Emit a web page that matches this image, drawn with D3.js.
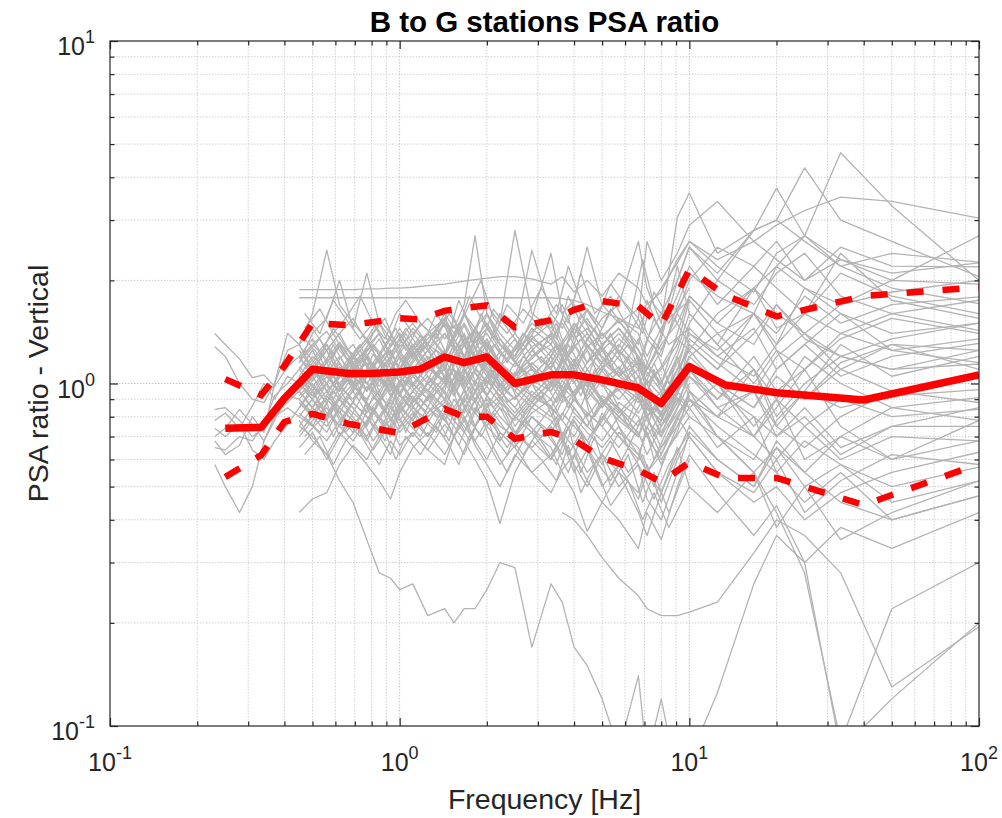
<!DOCTYPE html>
<html>
<head>
<meta charset="utf-8">
<script src="https://cdn.jsdelivr.net/npm/d3@7"></script>
<style>
  body { margin: 0; background: #fff; }
  svg { display: block; }
</style>
</head>
<body>
<svg id="chart" width="1002" height="818"></svg>
<script>
// frequencies of the mean / +-sigma curves (Hz)
const redFreqs = [0.25, 0.333, 0.4, 0.5, 0.667, 0.8, 1, 1.176, 1.429, 1.667, 2, 2.5,
  3.333, 4, 5, 6.667, 8, 10, 13.33, 20, 40, 100];
const meanRatio = [0.74, 0.745, 0.905, 1.10, 1.07, 1.07, 1.08, 1.10, 1.195, 1.15, 1.195, 1.0,
  1.06, 1.06, 1.025, 0.97, 0.875, 1.12, 0.99, 0.94, 0.895, 1.06];
const upperRatio = [1.03, 0.925, 1.125, 1.50, 1.48, 1.51, 1.55, 1.54, 1.63, 1.66, 1.69, 1.46,
  1.53, 1.64, 1.74, 1.68, 1.48, 2.15, 1.81, 1.57, 1.80, 1.91];
const lowerRatio = [0.533, 0.618, 0.772, 0.815, 0.762, 0.742, 0.717, 0.772, 0.843, 0.80, 0.80, 0.69,
  0.722, 0.684, 0.606, 0.559, 0.516, 0.588, 0.53, 0.53, 0.442, 0.582];

// frequencies of the station-pair curves that run up to 100 Hz
const grayFreqs = [0.23, 0.25, 0.28, 0.31, 0.34, 0.37, 0.41, 0.45, 0.50, 0.56, 0.62, 0.69,
  0.77, 0.85, 0.93, 1.0, 1.11, 1.25, 1.43, 1.54, 1.67, 1.82, 2.0, 2.22, 2.5, 2.86, 3.33,
  3.64, 4.0, 4.44, 5.0, 5.71, 6.67, 7.14, 8.0, 9.09, 10, 12.5, 16.7, 20, 25, 33.3, 50, 100];

// every curve ends at 100 Hz; shorter curves start later
const grayCurves = [
  [1.40,1.30,1.18,1.04,1.06,0.98,1.12, 1.20,1.35,1.15,1.30,1.22,1.05,1.18,1.25,1.10, 1.28,1.40,1.22,1.35,1.18,1.45,1.30,1.12,1.25,1.38, 1.20,1.32,1.50,1.28,1.40,1.22,1.55,1.35,1.20,1.70,2.10, 1.80,1.60,2.20,1.90,1.70,1.85,2.00],
  [1.28,1.20,1.00,0.90,0.88,1.00,1.25, 1.30,1.10,1.25,1.40,1.18,1.32,1.50,1.28,1.40, 1.22,1.35,1.55,1.30,1.48,1.26,1.60,1.35,1.20,1.42, 1.55,1.30,1.45,1.65,1.38,1.52,1.30,1.75,1.40,2.20,1.60, 1.30,1.90,1.45,1.60,2.40,1.75,1.55],
  [0.84,0.85,0.78,0.70,0.74,0.82,0.88, 0.95,0.85,1.00,0.90,0.82,0.98,0.88,1.05,0.92, 0.85,1.00,1.10,0.92,1.05,0.95,1.15,1.00,0.90,1.02, 0.95,1.10,0.92,1.05,0.88,0.98,1.10,0.85,0.95,1.20,0.90, 0.80,1.10,0.75,0.95,1.30,1.05,1.20],
  [0.65,0.64,0.70,0.68,0.76,0.92,1.00, 1.10,1.25,1.05,0.95,1.15,1.00,0.92,1.08,1.20, 1.05,0.95,1.12,1.30,1.10,1.00,1.18,0.95,1.08,0.92, 1.05,0.98,1.15,0.90,1.02,1.12,0.92,1.00,0.80,0.95,1.15, 1.00,0.70,0.85,1.10,0.75,0.60,0.68],
  [0.58,0.50,0.42,0.50,0.68,0.80,0.85, 0.80,0.75,0.88,0.70,0.82,0.76,0.90,0.72,0.85, 0.78,0.92,0.80,0.70,0.85,0.75,0.88,0.68,0.80,0.72, 0.85,0.70,0.78,0.65,0.82,0.70,0.60,0.75,0.62,0.78,0.95, 0.70,0.55,0.65,0.50,0.58,0.45,0.52],
  [0.74,0.70,0.76,0.64,0.60,0.68,0.76, 0.85,0.95,0.80,0.92,1.05,0.88,0.78,0.90,0.82, 0.95,0.85,0.78,0.90,0.82,1.00,0.85,0.92,0.75,0.88, 0.80,0.92,0.85,0.75,0.90,0.80,0.70,0.85,0.72,0.88,1.05, 0.85,0.95,0.70,0.80,0.62,0.75,0.85],
  [0.78,0.82,0.74,0.86,1.00,0.90,1.05, 1.00,1.15,1.30,1.08,0.98,1.20,1.05,0.95,1.10, 1.25,1.05,0.95,1.15,1.30,1.08,0.98,1.20,1.35,1.10, 1.00,1.20,1.05,1.30,1.12,0.95,1.18,1.00,0.85,1.10,1.45, 1.20,1.05,1.30,1.60,1.40,1.25,1.35],
  [0.68,0.62,0.66,0.80,0.72,1.00,1.40, 1.30,1.10,1.00,1.15,0.95,1.08,1.22,1.00,0.92, 1.10,1.25,1.05,0.98,1.18,1.35,1.12,1.00,0.90,1.05, 1.20,0.95,1.10,1.25,1.00,0.90,1.05,0.88,0.75,0.95,1.20, 1.00,0.85,1.05,0.90,1.15,1.30,1.10],
  [0.70,0.74,0.84,0.76,0.68,0.78,0.92, 0.90,0.80,0.72,0.85,0.78,0.68,0.80,0.88,0.74, 0.82,0.70,0.86,0.78,0.92,0.75,0.84,0.72,0.65,0.80, 0.70,0.62,0.78,0.68,0.58,0.72,0.65,0.55,0.62,0.80,0.70, 0.55,0.48,0.60,0.42,0.52,0.62,0.58],
  [1.88,1.88,1.88,1.88,1.88,1.89,1.89,1.90,1.90, 1.91,1.93,1.95,1.97,1.99,2.01,2.03,2.05,2.05,2.02, 1.95,2.05,1.85,2.00,1.80,2.10,1.90,1.70,1.85,2.30,2.60, 2.30,2.60,2.90,3.20,3.50,3.40,3.04],
  [1.78,1.78,1.78,1.78,1.78,1.78,1.78,1.78,1.78, 1.78,1.78,1.78,1.78,1.78,1.78,1.78,1.78,1.78,1.78, 1.78,1.77,1.75,1.70,1.62,1.55,1.45,1.65,1.90,2.25,2.60, 2.20,1.85,2.40,2.70,2.30,2.00,2.70],
  [0.42,0.46,0.48,0.58,0.66,0.60,0.70,0.75,0.66, 0.72,0.64,0.76,0.70,0.62,0.74,0.68,0.58,0.66,0.72, 0.60,0.68,0.55,0.64,0.50,0.58,0.46,0.55,0.48,0.62,0.75, 0.60,0.50,0.68,0.55,0.45,0.40,0.47],
  [0.75,0.70,0.62,0.52,0.45,0.35,0.28,0.27,0.25, 0.26,0.21,0.22,0.20,0.22,0.22,0.25,0.30,0.29,0.17, 0.26,0.23,0.17,0.15,0.12,0.085,0.14,0.08,0.12,0.07,0.08, 0.125,0.26,0.36,0.30,0.085,0.12,0.20],
  [0.42,0.40,0.36,0.31,0.27,0.24,0.22,0.21,0.21,0.215, 0.23,0.32,0.40,0.36,0.28,0.13,0.195],
  [1.30,1.60,2.45,1.70,1.50,1.35,1.55,1.40,1.25, 1.45,1.30,1.55,1.40,1.60,1.35,1.50,1.30,1.20,1.45, 1.30,1.55,1.35,1.45,1.25,1.40,1.20,1.10,1.30,1.50,1.80, 1.50,1.30,1.70,1.40,1.20,1.35,1.50],
  [1.15,1.40,1.55,2.00,1.45,2.10,1.50,1.35,1.60, 1.40,1.25,1.50,1.35,1.20,1.45,1.60,1.30,1.15,1.35, 1.50,1.25,1.40,1.15,1.30,1.45,1.20,1.05,1.25,1.60,1.40, 1.20,1.45,1.10,1.30,1.60,1.25,1.15],
  [1.05,1.20,1.10,1.30,1.15,1.25,1.40,1.20,1.35, 1.50,1.30,1.60,1.45,1.70,2.70,1.60,1.40,1.25,1.50, 1.35,1.20,1.45,1.30,1.15,1.35,1.20,1.00,1.10,1.30,1.75, 1.40,1.60,1.25,1.10,1.35,1.55,1.40],
  [0.95,1.10,1.25,1.05,1.20,1.35,1.15,1.30,1.45, 1.25,1.40,1.55,1.35,1.60,1.45,1.70,1.50,2.80,1.60, 1.45,1.70,1.40,1.55,1.30,1.45,1.25,1.10,1.35,2.00,2.50, 2.00,1.70,2.10,2.40,1.80,1.60,1.75],
  [1.20,1.05,1.30,1.15,1.00,1.20,1.35,1.15,1.05, 1.25,1.40,1.20,1.55,1.30,1.45,1.25,1.60,1.40,2.45, 1.60,1.45,1.70,1.50,1.35,1.55,1.40,1.20,1.45,1.80,2.20, 1.70,2.20,1.90,1.60,2.10,1.80,1.60],
  [1.00,0.92,1.08,1.20,1.05,0.95,1.12,1.25,1.10, 1.30,1.15,1.40,1.25,1.10,1.35,1.50,1.30,1.20,1.55, 2.40,1.60,1.75,2.50,1.70,1.50,1.65,1.40,1.25,1.60,2.00, 2.50,2.20,2.60,2.00,2.30,2.10,2.25],
  [0.90,1.00,0.88,1.05,1.15,0.95,1.08,1.20,1.00, 1.15,1.30,1.10,1.25,1.40,1.20,1.35,1.15,1.05,1.25, 1.40,1.20,1.50,1.35,1.55,1.70,2.60,1.90,1.50,3.06,3.60, 2.40,2.80,3.00,2.60,2.20,2.40,2.26],
  [1.10,1.25,1.05,0.95,1.10,1.22,1.05,0.98,1.15, 1.30,1.12,1.00,1.20,1.35,1.18,1.05,1.25,1.40,1.20, 1.35,1.50,1.30,1.65,1.45,1.80,1.55,2.60,2.00,2.40,2.90, 3.40,2.60,2.30,2.00,2.50,2.20,2.19],
  [1.05,0.95,1.10,1.00,0.88,1.05,1.18,1.00,0.92, 1.08,1.20,1.05,0.95,1.12,1.28,1.10,0.98,1.15,1.05, 1.20,1.10,1.30,1.15,1.40,1.25,1.10,1.35,1.60,2.00,2.50, 2.10,2.80,3.00,4.26,3.00,2.60,2.05],
  [0.85,0.98,1.10,0.92,1.05,1.15,0.95,1.08,1.20, 1.00,0.90,1.05,1.18,0.98,1.10,1.25,1.05,0.95,1.12, 1.00,1.18,1.30,1.10,1.25,1.05,1.35,1.15,1.00,1.40,1.80, 1.50,1.90,2.20,2.70,4.72,3.30,2.00],
  [1.25,1.10,1.00,1.18,1.30,1.12,0.98,1.10,1.25, 1.08,0.95,1.15,1.30,1.10,1.00,1.20,1.35,1.15,1.00, 1.15,1.30,1.05,0.92,1.10,1.25,1.05,0.95,0.80,1.20,1.50, 2.00,2.80,3.72,2.70,2.20,1.90,1.71],
  [0.80,0.90,0.78,0.92,0.85,0.75,0.88,0.98,0.85, 0.95,1.05,0.90,0.82,0.96,1.08,0.92,0.85,0.78,0.90, 1.00,0.88,0.95,1.05,0.90,0.80,0.92,0.78,0.70,0.95,1.30, 1.10,1.60,1.30,1.90,1.60,1.40,1.50],
  [0.95,1.05,0.90,0.82,0.96,1.08,0.92,0.85,1.00, 0.88,1.00,1.15,0.98,0.88,1.02,0.92,1.10,0.95,0.85, 0.98,1.10,0.92,1.02,0.88,0.96,0.82,0.90,0.75,0.88,1.05, 0.90,1.20,0.95,1.10,1.40,1.60,1.43],
  [1.05,0.92,1.00,1.12,0.98,0.90,1.02,1.15,1.05, 0.95,1.08,1.25,1.10,1.00,1.15,1.30,1.12,1.00,0.92, 1.05,0.95,1.10,0.98,0.85,1.00,0.90,0.80,0.88,1.10,1.25, 1.00,0.85,1.10,1.30,1.05,1.20,1.31],
  [0.88,0.80,0.92,0.85,0.95,0.82,0.90,0.78,0.88, 1.00,0.90,0.98,1.10,0.95,0.88,1.02,0.92,0.82,0.95, 0.85,0.98,0.90,0.80,0.92,0.85,0.75,0.88,0.70,0.85,1.10, 0.90,1.10,0.80,1.00,1.20,1.10,1.25],
  [1.15,1.30,1.18,1.05,1.22,1.35,1.15,1.28,1.40, 1.20,1.35,1.48,1.25,1.38,1.20,1.32,1.15,1.05,1.25, 1.10,1.28,1.15,1.35,1.20,1.05,1.15,0.95,0.85,1.05,1.30, 1.10,1.40,1.70,1.35,1.20,1.10,1.14],
  [0.75,0.85,0.95,0.80,0.72,0.88,0.78,0.70,0.82, 0.92,0.80,0.88,1.00,0.85,0.95,0.82,0.75,0.70,0.85, 0.78,0.70,0.85,0.75,0.68,0.80,0.72,0.62,0.75,0.90,0.80, 0.70,0.60,0.78,0.95,0.85,0.92,0.96],
  [1.00,1.12,0.95,1.05,1.20,1.00,0.90,1.02,1.10, 0.98,1.12,1.02,1.20,1.32,1.12,1.00,1.15,1.02,1.10, 0.95,1.05,1.18,1.00,0.90,0.82,0.95,0.85,0.78,1.00,1.20, 1.40,1.10,0.90,1.20,1.00,0.85,0.91],
  [0.70,0.78,0.85,0.75,0.68,0.78,0.88,0.80,0.72, 0.80,0.90,0.78,0.85,0.95,0.82,0.90,0.80,0.72,0.82, 0.90,0.78,0.70,0.82,0.75,0.65,0.78,0.70,0.60,0.72,0.95, 0.80,0.70,0.60,0.75,0.90,0.80,0.84],
  [1.20,1.05,1.18,1.32,1.15,1.05,1.20,1.35,1.22, 1.10,1.25,1.40,1.30,1.15,1.32,1.45,1.30,1.18,1.35, 1.25,1.12,1.00,1.15,1.28,1.10,0.98,1.12,1.00,1.25,1.60, 1.30,1.00,1.25,0.90,1.10,1.30,1.25],
  [0.65,0.72,0.60,0.70,0.78,0.66,0.58,0.68,0.62, 0.72,0.64,0.58,0.70,0.80,0.68,0.60,0.72,0.65,0.55, 0.62,0.70,0.58,0.50,0.62,0.55,0.48,0.58,0.45,0.60,0.70, 0.55,0.45,0.50,0.40,0.48,0.55,0.63],
  [0.78,0.68,0.62,0.72,0.65,0.58,0.52,0.46,0.55, 0.65,0.72,0.62,0.70,0.78,0.66,0.58,0.50,0.62,0.55, 0.48,0.56,0.62,0.52,0.45,0.55,0.42,0.36,0.48,0.65,0.50, 0.42,0.55,0.38,0.50,0.35,0.42,0.52],
  [0.90,0.82,0.75,0.85,0.78,0.70,0.80,0.74,0.86, 0.78,0.70,0.82,0.75,0.68,0.60,0.52,0.39,0.55,0.68, 0.60,0.72,0.65,0.55,0.62,0.50,0.58,0.46,0.40,0.55,0.72, 0.60,0.50,0.65,0.55,0.70,0.60,0.78],
  [0.85,0.95,0.82,0.75,0.88,0.80,0.72,0.85,0.78, 0.70,0.82,0.90,0.78,0.72,0.85,0.75,0.68,0.80,0.72, 0.65,0.55,0.48,0.37,0.45,0.40,0.33,0.42,0.35,0.50,0.62, 0.48,0.36,0.44,0.30,0.38,0.33,0.42],
  [1.10,0.98,0.88,1.00,1.12,0.95,1.05,0.92,1.00, 1.12,1.00,0.90,1.05,1.18,1.02,0.92,1.08,0.98,0.88, 1.02,0.92,1.05,0.95,0.85,0.98,0.88,0.95,0.82,1.05,1.35, 1.15,0.95,1.20,1.40,1.10,0.95,1.05],
  [0.92,1.02,1.15,0.98,0.90,1.05,1.18,1.00,0.94, 1.05,1.15,1.00,0.92,1.08,1.20,1.05,0.95,0.85,1.00, 0.90,1.02,0.92,1.10,0.98,1.08,0.92,0.80,0.92,1.05,1.15, 0.95,0.80,0.70,0.85,0.65,0.75,0.75],
  [1.30,1.45,1.25,1.40,1.55,1.32,1.22,1.38,1.28, 1.40,1.55,1.35,1.48,1.30,1.42,1.28,1.15,1.05,1.20, 1.30,1.15,1.28,1.40,1.18,1.05,1.20,1.08,0.95,1.15,1.40, 1.25,1.60,1.40,1.80,1.50,1.70,1.79],
  [0.82,0.75,0.68,0.78,0.88,0.80,0.70,0.62,0.75, 0.85,0.78,0.70,0.82,0.75,0.68,0.78,0.88,0.72,0.65, 0.75,0.68,0.80,0.72,0.65,0.75,0.62,0.55,0.65,0.80,0.90, 0.75,0.62,0.55,0.68,0.58,0.50,0.57],
  [1.00,0.90,1.05,0.95,1.08,1.20,1.02,0.95,1.10, 1.22,1.08,1.18,1.05,0.98,1.10,1.02,0.92,1.05,1.15, 1.02,0.95,1.08,0.98,1.12,1.00,0.90,1.02,0.92,1.20,0.95, 0.80,0.95,0.75,0.65,0.80,0.95,0.88],
  [1.18,1.30,1.42,1.25,1.12,1.28,1.40,1.22,1.35, 1.18,1.30,1.20,1.35,1.50,1.32,1.40,1.22,1.12,1.28, 1.38,1.25,1.12,1.28,1.15,1.30,1.12,1.00,1.12,1.35,1.25, 1.60,1.90,1.60,1.40,1.70,2.00,1.95],
  [0.95,0.85,0.78,0.90,1.00,0.88,0.80,0.92,1.02, 0.90,0.82,0.95,0.85,0.78,0.90,0.98,0.88,0.80,0.92, 0.85,0.78,0.90,0.82,0.75,0.88,0.80,0.70,0.82,0.95,0.85, 1.00,0.75,0.90,0.60,0.70,0.85,0.78],
  [1.00,1.10,0.95,0.85,0.98,1.08,0.92,0.85,0.98, 1.08,0.95,0.85,0.98,1.10,0.95,1.05,0.90,0.80,0.92, 0.85,0.95,0.82,0.75,0.88,0.78,0.70,0.80,0.65,0.75,0.90, 0.70,0.55,0.42,0.28,0.09,0.22,0.30],
  [1.12,1.02,1.15,1.28,1.10,1.00,1.12,1.25,1.08, 1.00,1.12,1.25,1.10,1.02,1.18,1.08,0.98,0.90,1.02, 1.12,1.25,1.10,1.00,1.15,1.05,0.95,0.85,0.78,0.95,1.10, 0.85,0.70,0.90,0.75,0.60,0.70,0.68],
  [0.72,0.80,0.90,0.82,0.75,0.85,0.95,0.82,0.78, 0.88,0.96,0.85,0.78,0.90,0.82,0.75,0.85,0.70,0.80, 0.72,0.82,0.75,0.68,0.80,0.70,0.62,0.72,0.58,0.75,0.85, 0.65,0.80,0.55,0.45,0.55,0.40,0.47]
];

// frequencies of the station-pair curves that stop at 10 Hz
const shortFreqs = [0.47, 0.53, 0.59, 0.65, 0.73, 0.81, 0.89, 0.97, 1.05, 1.18, 1.34, 1.48,
  1.60, 1.74, 1.91, 2.11, 2.35, 2.67, 3.08, 3.48, 3.82, 4.22, 4.71, 5.35, 6.15, 6.90, 7.55,
  8.5, 10.0];
const shortCurves = [
  [1.05,1.20,0.98,1.10,1.25,1.02,1.15,0.95, 1.12,1.30,1.05,1.22,0.98,1.15,1.35,1.10,0.95,1.20, 1.05,1.30,1.10,0.92,1.18,1.40,1.05,0.85,1.10,0.80,1.15],
  [0.90,0.80,0.95,0.85,0.75,0.92,0.82,0.98, 0.88,0.78,0.95,1.05,0.85,0.98,0.80,0.92,1.05,0.82, 0.95,0.75,0.88,1.02,0.72,0.85,0.65,0.80,0.60,0.75,1.00],
  [1.35,1.20,1.45,1.28,1.15,1.40,1.55,1.30, 1.45,1.25,1.60,1.40,1.75,1.50,1.30,1.65,1.45,1.25, 1.55,1.35,1.80,1.50,1.30,1.65,1.40,1.20,1.55,1.30,1.45],
  [0.75,0.88,0.70,0.82,0.95,0.78,0.68,0.85, 0.72,0.90,0.80,0.68,0.85,0.75,0.92,0.70,0.62,0.80, 0.68,0.58,0.75,0.55,0.70,0.50,0.62,0.45,0.55,0.42,0.60],
  [1.15,1.05,1.30,1.12,1.00,1.22,1.08,1.25, 1.40,1.18,1.05,1.30,1.45,1.20,1.60,1.35,1.15,1.40, 1.25,1.50,1.20,1.60,1.35,1.15,1.45,1.05,1.30,1.00,1.25],
  [0.98,1.10,0.90,1.05,0.95,1.15,1.00,0.88, 1.02,0.92,1.15,0.98,1.08,0.88,1.00,0.85,0.95,1.10, 0.90,1.05,0.85,0.98,0.80,0.95,0.75,0.90,0.70,0.88,1.05],
  [1.60,1.40,1.75,1.55,1.35,1.50,1.30,1.45, 1.25,1.50,1.35,1.65,1.45,1.80,1.55,1.35,1.70,1.50, 1.90,1.60,2.20,1.75,1.50,1.95,1.65,1.40,1.85,1.55,1.75],
  [0.62,0.70,0.58,0.68,0.75,0.64,0.72,0.60, 0.70,0.62,0.75,0.66,0.58,0.70,0.80,0.65,0.55,0.68, 0.60,0.52,0.66,0.48,0.58,0.44,0.52,0.40,0.48,0.38,0.50],
  [1.25,1.10,1.00,1.15,1.30,1.08,0.98,1.18, 1.30,1.12,1.25,1.05,1.20,1.40,1.15,1.00,1.25,1.08, 1.20,1.05,1.30,1.12,0.98,1.25,1.10,0.95,1.15,0.90,1.20],
  [0.85,0.95,1.05,0.90,0.80,0.98,1.10,0.92, 0.82,0.98,0.88,1.05,0.92,0.82,0.98,1.10,0.88,0.95, 1.05,0.88,1.00,0.85,1.10,0.90,0.78,1.00,0.82,0.95,0.85],
  [1.10,1.25,1.40,1.20,1.08,1.30,1.18,1.05, 1.20,1.38,1.15,1.28,1.50,1.25,1.12,1.30,1.18,1.40, 1.15,1.30,1.05,1.25,1.45,1.12,1.30,1.05,1.20,1.65,1.30],
  [0.70,0.78,0.85,0.72,0.80,0.68,0.76,0.88, 0.78,0.70,0.85,0.75,0.66,0.78,0.70,0.82,0.72,0.62, 0.75,0.65,0.55,0.70,0.60,0.52,0.65,0.55,0.46,0.58,0.72],
  [1.45,1.65,1.40,1.55,1.80,1.50,1.35,1.60, 1.75,1.50,1.35,1.60,1.45,1.70,2.00,1.55,1.40,1.65, 1.45,1.70,1.50,2.10,1.60,1.80,1.45,2.30,1.70,1.50,1.90],
  [0.95,0.85,1.00,1.12,0.92,0.82,0.95,1.05, 0.95,0.85,1.00,0.90,1.10,0.95,0.85,1.00,0.90,0.80, 0.92,0.82,0.98,0.85,0.72,0.88,0.78,0.68,0.85,0.75,0.92],
  [1.20,1.35,1.15,1.00,1.18,1.30,1.12,1.25, 1.10,1.25,1.40,1.18,1.30,1.12,1.25,1.15,1.00,1.12, 1.25,1.10,1.20,1.35,1.15,1.02,1.20,0.88,1.05,0.92,1.10],
  [0.80,0.72,0.88,0.78,0.70,0.85,0.75,0.82, 0.92,0.80,0.72,0.88,0.78,0.68,0.82,0.75,0.65,0.78, 0.70,0.80,0.62,0.72,0.58,0.68,0.55,0.62,0.50,0.65,0.80]
];

const xTickExp = [-1, 0, 1, 2];
const yTickExp = [-1, 0, 1];

const plot = { left: 110, right: 979, top: 41, bottom: 726 };
const font = "'Liberation Sans', Arial, Helvetica, sans-serif";
const axisColor = "#262626";

const x = d3.scaleLog().domain([0.1, 100]).range([plot.left, plot.right]);
const y = d3.scaleLog().domain([0.1, 10]).range([plot.bottom, plot.top]);

const svg = d3.select("#chart");

svg.append("defs").append("clipPath").attr("id", "plotClip")
  .append("rect")
  .attr("x", plot.left).attr("y", plot.top)
  .attr("width", plot.right - plot.left).attr("height", plot.bottom - plot.top);

const isMajor = (t) => Math.abs(Math.log10(t) - Math.round(Math.log10(t))) < 1e-9;
const xTicks = x.ticks();
const yTicks = y.ticks();

// grid lines
const grid = svg.append("g").attr("class", "grid");
grid.selectAll("line.gx")
  .data(xTicks.filter((t) => x(t) > plot.left + 0.5 && x(t) < plot.right - 0.5))
  .join("line")
  .attr("x1", (d) => x(d)).attr("x2", (d) => x(d))
  .attr("y1", plot.top).attr("y2", plot.bottom)
  .attr("stroke", (d) => (isMajor(d) ? "#c4c4c4" : "#d0d0d0"))
  .attr("stroke-width", 1)
  .attr("stroke-dasharray", "1.5,1.5");
grid.selectAll("line.gy")
  .data(yTicks.filter((t) => y(t) > plot.top + 0.5 && y(t) < plot.bottom - 0.5))
  .join("line")
  .attr("y1", (d) => y(d)).attr("y2", (d) => y(d))
  .attr("x1", plot.left).attr("x2", plot.right)
  .attr("stroke", (d) => (isMajor(d) ? "#c4c4c4" : "#d0d0d0"))
  .attr("stroke-width", 1)
  .attr("stroke-dasharray", "1.5,1.5");

// station curves
const lines = svg.append("g").attr("clip-path", "url(#plotClip)");
const line = d3.line().x((d) => x(d[0])).y((d) => y(d[1]));

const stationPts = grayCurves.map((vals) => {
  const start = grayFreqs.length - vals.length;
  return vals.map((v, i) => [grayFreqs[start + i], v]);
}).concat(shortCurves.map((vals) => vals.map((v, i) => [shortFreqs[i], v])));

lines.selectAll("path.station")
  .data(stationPts)
  .join("path")
  .attr("class", "station")
  .attr("d", line)
  .attr("fill", "none")
  .attr("stroke", "#b3b3b3")
  .attr("stroke-width", 1.3)
  .attr("stroke-linejoin", "round");

// mean and +-sigma
const toPts = (arr) => arr.map((v, i) => [redFreqs[i], v]);
[upperRatio, lowerRatio].forEach((arr) => {
  lines.append("path")
    .attr("d", line(toPts(arr)))
    .attr("fill", "none")
    .attr("stroke", "#ff0000")
    .attr("stroke-width", 6.5)
    .attr("stroke-dasharray", "17,19");
});
lines.append("path")
  .attr("d", line(toPts(meanRatio)))
  .attr("fill", "none")
  .attr("stroke", "#ff0000")
  .attr("stroke-width", 7.5)
  .attr("stroke-linejoin", "round");

// box
svg.append("rect")
  .attr("x", plot.left).attr("y", plot.top)
  .attr("width", plot.right - plot.left).attr("height", plot.bottom - plot.top)
  .attr("fill", "none").attr("stroke", axisColor).attr("stroke-width", 1.2);

// inward ticks on all four sides
function tickAxis(axisFn, scale, pos, vals, size) {
  const g = svg.append("g")
    .attr("transform", pos)
    .call(axisFn(scale).tickValues(vals).tickSize(size).tickSizeOuter(0).tickFormat(""));
  g.select(".domain").remove();
  g.selectAll(".tick line").attr("stroke", axisColor).attr("stroke-width", 1.2);
}
const xMinor = xTicks.filter((t) => !isMajor(t));
const xMajor = xTicks.filter(isMajor);
const yMinor = yTicks.filter((t) => !isMajor(t));
const yMajor = yTicks.filter(isMajor);
tickAxis(d3.axisBottom, x, `translate(0,${plot.bottom})`, xMinor, -4.5);
tickAxis(d3.axisBottom, x, `translate(0,${plot.bottom})`, xMajor, -8);
tickAxis(d3.axisTop, x, `translate(0,${plot.top})`, xMinor, -4.5);
tickAxis(d3.axisTop, x, `translate(0,${plot.top})`, xMajor, -8);
tickAxis(d3.axisLeft, y, `translate(${plot.left},0)`, yMinor, -4.5);
tickAxis(d3.axisLeft, y, `translate(${plot.left},0)`, yMajor, -8);
tickAxis(d3.axisRight, y, `translate(${plot.right},0)`, yMinor, -4.5);
tickAxis(d3.axisRight, y, `translate(${plot.right},0)`, yMajor, -8);

// tick labels 10^n
function powLabel(sel, e) {
  sel.append("tspan").text("10");
  sel.append("tspan").attr("dy", -12).attr("font-size", 18).text(String(e));
}
xTickExp.forEach((e) => {
  const t = svg.append("text")
    .attr("x", x(Math.pow(10, e))).attr("y", 771)
    .attr("text-anchor", "middle")
    .attr("font-family", font).attr("font-size", 25).attr("fill", axisColor);
  powLabel(t, e);
});
yTickExp.forEach((e) => {
  const t = svg.append("text")
    .attr("x", 95).attr("y", y(Math.pow(10, e)) + 14)
    .attr("text-anchor", "end")
    .attr("font-family", font).attr("font-size", 25).attr("fill", axisColor);
  powLabel(t, e);
});

// title and axis labels
svg.append("text")
  .attr("x", (plot.left + plot.right) / 2).attr("y", 32)
  .attr("text-anchor", "middle")
  .attr("font-family", font).attr("font-size", 29.5).attr("font-weight", "bold")
  .attr("fill", "#000")
  .text("B to G stations PSA ratio");
svg.append("text")
  .attr("x", (plot.left + plot.right) / 2).attr("y", 809)
  .attr("text-anchor", "middle")
  .attr("font-family", font).attr("font-size", 28.5)
  .attr("fill", axisColor)
  .text("Frequency [Hz]");
svg.append("text")
  .attr("transform", `translate(48,${(plot.top + plot.bottom) / 2}) rotate(-90)`)
  .attr("text-anchor", "middle")
  .attr("font-family", font).attr("font-size", 28.5)
  .attr("fill", axisColor)
  .text("PSA ratio - Vertical");
</script>
</body>
</html>
